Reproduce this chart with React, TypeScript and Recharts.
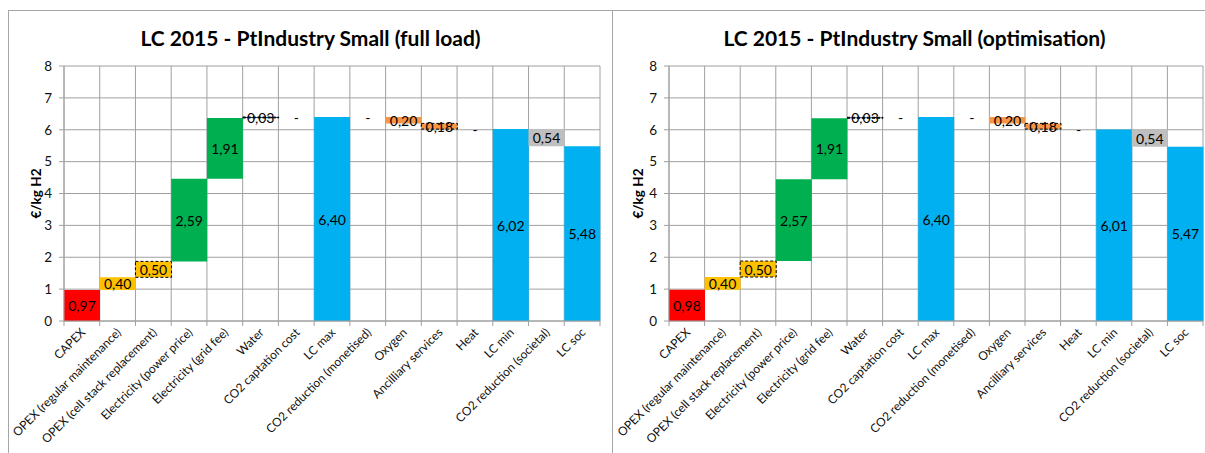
import React from 'react';
import { BarChart, Bar, XAxis, YAxis, CartesianGrid, Cell, LabelList } from 'recharts';

const categories = [
  'CAPEX',
  'OPEX (regular maintenance)',
  'OPEX (cell stack replacement)',
  'Electricity (power price)',
  'Electricity (grid fee)',
  'Water',
  'CO2 captation cost',
  'LC max',
  'CO2 reduction (monetised)',
  'Oxygen',
  'Ancilliary services',
  'Heat',
  'LC min',
  'CO2 reduction (societal)',
  'LC soc',
];
const stepKinds = ['inc', 'inc', 'inc', 'inc', 'inc', 'inc', 'inc', 'total', 'dec', 'dec', 'dec', 'dec', 'total', 'dec', 'total'];
const fullLoadValues = [0.97, 0.4, 0.5, 2.59, 1.91, 0.03, 0, 6.4, 0, 0.2, 0.18, 0, 6.02, 0.54, 5.48];
const optimisationValues = [0.98, 0.4, 0.5, 2.57, 1.91, 0.03, 0, 6.4, 0, 0.2, 0.18, 0, 6.01, 0.54, 5.47];
const barColors = ['#FF0000', '#FFC000', '#FFC000', '#00B050', '#00B050', '#1F3864', '#FFFFFF', '#00B0F0', '#FFFFFF', '#F79646', '#F79646', '#FFFFFF', '#00B0F0', '#BFBFBF', '#00B0F0'];
const dashedBorder = [false, false, true, false, false, true, false, false, false, false, true, false, false, false, false];
const yTicks = [0, 1, 2, 3, 4, 5, 6, 7, 8];
const titles = ['LC 2015 - PtIndustry Small (full load)', 'LC 2015 - PtIndustry Small (optimisation)'];
const yAxisTitle = '€/kg H2';

const FONT = 'Lato, "Open Sans", sans-serif';
const GRID = '#A0A0A0';

function fmt(v: number) {
  if (v === 0) return '-';
  return v.toFixed(2).replace('.', ',');
}

function buildRows(values: number[]) {
  let run = 0;
  return categories.map((name, i) => {
    const v = values[i];
    let base = 0;
    if (stepKinds[i] === 'inc') {
      base = run;
      run += v;
    } else if (stepKinds[i] === 'dec') {
      run -= v;
      base = run;
    } else {
      base = 0;
      run = v;
    }
    return { name, base: Math.max(0, base), value: v, zeroMark: v === 0 ? '-' : '' };
  });
}

type PanelProps = { title: string; values: number[]; left: number; yAxisWidth: number; rightMargin: number; labelX: number };

function Panel({ title, values, left, yAxisWidth, rightMargin, labelX }: PanelProps) {
  const rows = buildRows(values);
  const W = 603;
  const H = 443;
  const top = 55;
  const plotW = W - yAxisWidth - rightMargin;
  const band = plotW / categories.length;

  const renderTick = (props: any) => {
    const { x, y, payload, index } = props;
    const i = payload.index ?? index;
    const label = categories[i] ?? payload.value;
    return (
      <g>
        <line x1={x - band / 2} x2={x - band / 2} y1={y} y2={y + 5} stroke={GRID} />
        {i === categories.length - 1 ? <line x1={x + band / 2} x2={x + band / 2} y1={y} y2={y + 5} stroke={GRID} /> : null}
        <text
          x={0}
          y={0}
          transform={`translate(${x + 1},${y + 9}) rotate(-45)`}
          textAnchor="end"
          dominantBaseline="central"
          fontFamily={FONT}
          fontSize={12}
          fill="#111"
        >
          {label}
        </text>
      </g>
    );
  };

  const renderLabel = (props: any) => {
    const { x, y, width, height, value } = props;
    const cx = Number(x) + Number(width) / 2;
    const cy = Number(y) + Number(height) / 2;
    return (
      <text x={cx} y={cy} textAnchor="middle" dominantBaseline="central" fontFamily={FONT} fontSize={14} fill="#000">
        {fmt(Number(value))}
      </text>
    );
  };

  const renderZeroLabel = (props: any) => {
    const { x, y, width, value } = props;
    if (value !== '-') return null;
    const cx = Number(x) + Number(width) / 2;
    return (
      <text x={cx} y={Number(y)} textAnchor="middle" dominantBaseline="central" fontFamily={FONT} fontSize={14} fill="#000">
        {value}
      </text>
    );
  };

  return (
    <div
      style={{
        position: 'absolute',
        left,
        top: 10,
        width: 605,
        height: 470,
        border: '1px solid #A6A6A6',
        boxSizing: 'border-box',
        background: '#fff',
      }}
    >
      <div
        style={{
          position: 'absolute',
          left: 0,
          right: 0,
          top: 14,
          textAlign: 'center',
          fontFamily: FONT,
          fontWeight: 700,
          fontSize: 21,
          color: '#000',
          lineHeight: '26px',
        }}
      >
        {title}
      </div>
      <div style={{ position: 'absolute', left: 0, top: 0 }}>
        <BarChart
          width={W}
          height={H}
          data={rows}
          margin={{ top, right: rightMargin, bottom: 0, left: 0 }}
          barCategoryGap={0}
          barGap={0}
        >
          <CartesianGrid
            stroke={GRID}
            verticalCoordinatesGenerator={({ offset }: any) =>
              categories.map((_, i) => offset.left + (i * offset.width) / categories.length).concat([offset.left + offset.width])
            }
          />
          <XAxis
            dataKey="name"
            interval={0}
            height={H - top - 255}
            tickLine={false}
            tickSize={0}
            tickMargin={0}
            axisLine={{ stroke: GRID }}
            tick={renderTick}
          />
          <YAxis
            width={yAxisWidth}
            domain={[0, 8]}
            ticks={yTicks}
            interval={0}
            tickSize={5}
            tickMargin={7}
            axisLine={{ stroke: GRID }}
            tickLine={{ stroke: GRID }}
            tick={{ fontFamily: FONT, fontSize: 13.5, fill: '#111' }}
            label={{
              content: (p: any) => {
                const vb = p.viewBox || {};
                const cy = (vb.y ?? top) + (vb.height ?? 255) / 2;
                return (
                  <text
                    x={labelX}
                    y={cy}
                    transform={`rotate(-90, ${labelX}, ${cy})`}
                    textAnchor="middle"
                    dominantBaseline="central"
                    fontFamily={FONT}
                    fontWeight={700}
                    fontSize={13.5}
                    fill="#000"
                  >
                    {yAxisTitle}
                  </text>
                );
              },
            }}
          />
          <Bar dataKey="base" stackId="w" fill="transparent" isAnimationActive={false}>
            <LabelList dataKey="zeroMark" content={renderZeroLabel} />
          </Bar>
          <Bar dataKey="value" stackId="w" isAnimationActive={false}>
            {rows.map((r, i) => (
              <Cell
                key={r.name}
                fill={barColors[i]}
                stroke={dashedBorder[i] ? '#000' : 'none'}
                strokeWidth={dashedBorder[i] ? 1 : 0}
                strokeDasharray={dashedBorder[i] ? '3 2' : undefined}
              />
            ))}
            <LabelList dataKey="value" content={renderLabel} />
          </Bar>
        </BarChart>
      </div>
    </div>
  );
}

export default function App() {
  return (
    <div style={{ position: 'fixed', left: 0, top: 0, width: 1205, height: 453, overflow: 'hidden', background: '#fff' }}>
      <Panel title={titles[0]} values={fullLoadValues} left={8} yAxisWidth={55} rightMargin={12} labelX={27} />
      <Panel title={titles[1]} values={optimisationValues} left={612} yAxisWidth={56} rightMargin={13} labelX={25} />
    </div>
  );
}
